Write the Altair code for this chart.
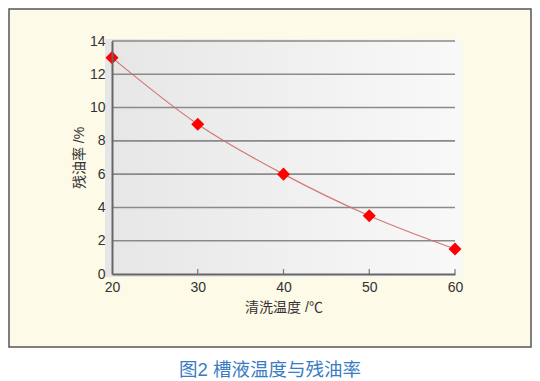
import altair as alt
import pandas as pd

# data
temps = [20, 30, 40, 50, 60]
oil = [13, 9, 6, 3.5, 1.5]
y_ticks = [0, 2, 4, 6, 8, 10, 12, 14]
grid_vals = [2, 4, 6, 8, 10, 12, 14]
inner_ticks = [30, 40, 50, 60]
x_title = "清洗温度 /℃"
y_title = "残油率 /%"
caption = "图2 槽液温度与残油率"

df = pd.DataFrame({"t": temps, "r": oil})
grid_df = pd.DataFrame({"g": grid_vals})
tick_df = pd.DataFrame({"t": inner_ticks})
one = pd.DataFrame({"c": [caption]})

W, H = 343, 233
FONT = "Liberation Sans, Noto Sans CJK SC, sans-serif"

xs = alt.Scale(domain=[20, 60], nice=False)
ys = alt.Scale(domain=[0, 14], nice=False)

x_axis = alt.Axis(title=x_title, values=temps, format="d", tickSize=0,
                  domainColor="#666666", domainWidth=2, labelPadding=6,
                  labelFontSize=14, titleFontSize=14, titleFontWeight="normal",
                  labelColor="#333333", titleColor="#333333", titlePadding=6,
                  labelFlush=False, labelOverlap=False,
                  grid=False, zindex=1, labelFont=FONT, titleFont=FONT)
y_axis = alt.Axis(title=y_title, values=y_ticks, format="d", tickSize=0,
                  domainColor="#666666", domainWidth=2, labelPadding=7,
                  labelFontSize=14, titleFontSize=14, titleFontWeight="normal",
                  labelColor="#333333", titleColor="#333333", titlePadding=3,
                  labelFlush=False, labelOverlap=False,
                  grid=False, zindex=1, labelFont=FONT, titleFont=FONT)

box = alt.Chart(one).mark_rect(fill="#FEFAE8", stroke="#555555", strokeWidth=1.5).encode(
    x=alt.value(-103), x2=alt.value(419), y=alt.value(-32), y2=alt.value(306)
)

grad = alt.Chart(one).mark_rect(
    color=alt.Gradient(
        gradient="linear",
        stops=[alt.GradientStop(color="#e6e6e6", offset=0),
               alt.GradientStop(color="#f9f9f9", offset=1)],
        x1=0, x2=1, y1=0, y2=0,
    )
).encode(x=alt.value(-7), x2=alt.value(350), y=alt.value(-2), y2=alt.value(236))

grid = alt.Chart(grid_df).mark_rule(color="#8a8a8a", strokeWidth=1.6).encode(
    y=alt.Y("g:Q", scale=ys, axis=y_axis), x=alt.value(0), x2=alt.value(W)
)

ticks = alt.Chart(tick_df).mark_rule(color="#777777", strokeWidth=1.2).encode(
    x=alt.X("t:Q", scale=xs, axis=x_axis), y=alt.value(H), y2=alt.value(H - 5)
)

line = alt.Chart(df).mark_line(color="#d26a6a", strokeWidth=1.2, interpolate="monotone", opacity=0.9).encode(
    x=alt.X("t:Q", scale=xs, axis=x_axis),
    y=alt.Y("r:Q", scale=ys, axis=y_axis),
)

points = alt.Chart(df).mark_point(shape="diamond", filled=True, color="#ff0000", size=170, opacity=1).encode(
    x=alt.X("t:Q", scale=xs, axis=x_axis), y=alt.Y("r:Q", scale=ys, axis=y_axis)
)

cap = alt.Chart(one).mark_text(color="#3a7cc4", fontSize=18.5, font=FONT, baseline="middle", align="center").encode(
    x=alt.value(158), y=alt.value(329), text="c:N"
)

chart = alt.layer(box, grad, grid, ticks, line, points, cap).properties(
    width=W, height=H,
    padding={"left": 104, "top": 33, "right": 77, "bottom": 106},
    autosize=alt.AutoSizeParams(type="none"),
    background="white",
).configure_view(stroke=None)

chart.save("out.html", embed_options={"renderer": "svg", "actions": False})
